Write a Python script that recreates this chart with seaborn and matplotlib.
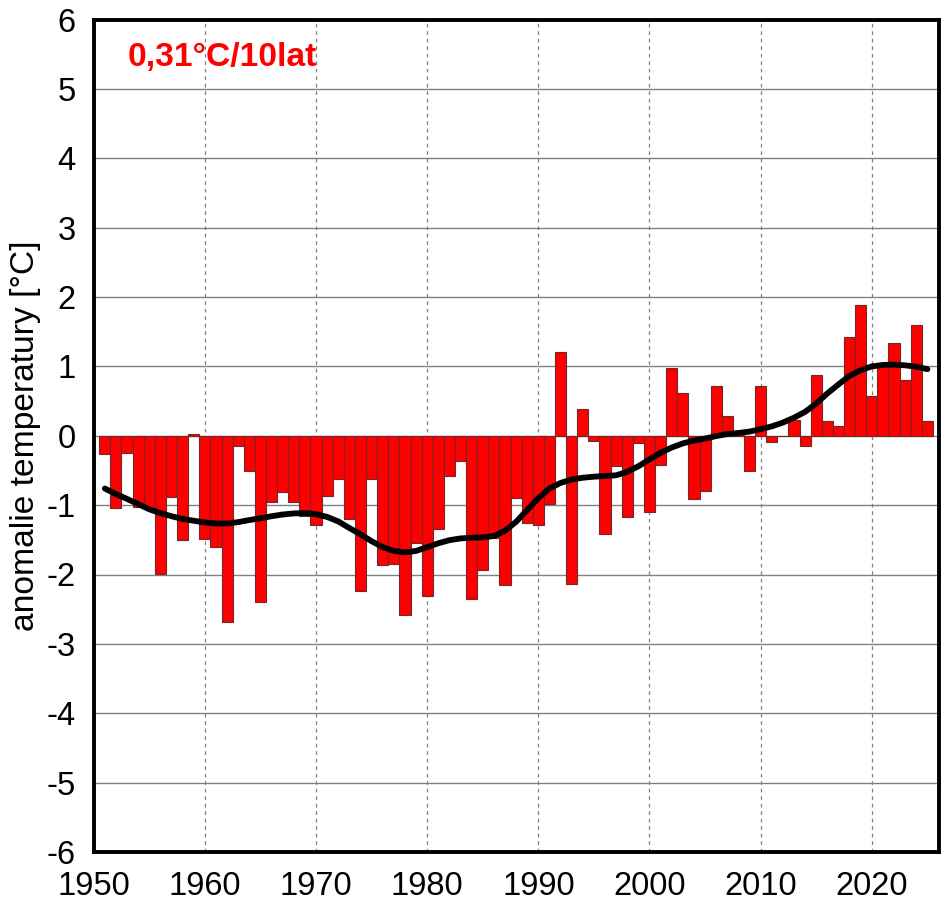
import matplotlib

matplotlib.use("Agg")
import matplotlib.pyplot as plt
import seaborn as sns

years = list(range(1951, 2026))
anomaly = [
    -0.26, -1.04, -0.25, -1.03, -1.06, -1.99, -0.88, -1.50, 0.03, -1.49,
    -1.60, -2.69, -0.15, -0.51, -2.40, -0.95, -0.81, -0.95, -1.16, -1.29,
    -0.87, -0.63, -1.20, -2.24, -0.63, -1.87, -1.85, -2.59, -1.55, -2.31,
    -1.35, -0.58, -0.36, -2.36, -1.94, -1.47, -2.15, -0.90, -1.26, -1.28,
    -0.98, 1.21, -2.14, 0.385, -0.07, -1.42, -0.43, -1.17, -0.11, -1.10,
    -0.42, 0.97, 0.615, -0.91, -0.79, 0.71, 0.28, 0.02, -0.51, 0.71,
    -0.09, -0.01, 0.23, -0.15, 0.87, 0.21, 0.14, 1.43, 1.88, 0.57,
    1.00, 1.33, 0.81, 1.60, 0.21,
]
smooth = [
    -0.76, -0.84, -0.91, -0.985, -1.06, -1.115, -1.16, -1.20, -1.225, -1.25,
    -1.265, -1.265, -1.245, -1.215, -1.19, -1.16, -1.135, -1.12, -1.115, -1.13,
    -1.17, -1.235, -1.33, -1.42, -1.52, -1.605, -1.66, -1.68, -1.66, -1.605,
    -1.55, -1.505, -1.48, -1.47, -1.465, -1.445, -1.37, -1.24, -1.07, -0.90,
    -0.76, -0.68, -0.63, -0.605, -0.59, -0.58, -0.57, -0.52, -0.44, -0.34,
    -0.245, -0.17, -0.11, -0.07, -0.04, -0.005, 0.025, 0.04, 0.06, 0.095,
    0.135, 0.19, 0.26, 0.345, 0.465, 0.61, 0.74, 0.865, 0.945, 1.00,
    1.02, 1.025, 1.015, 0.995, 0.96,
]
x_ticks = [1950, 1960, 1970, 1980, 1990, 2000, 2010, 2020]
y_ticks = list(range(-6, 7))

sns.set_theme(style="white")
plt.rcParams["font.family"] = ["Liberation Sans", "DejaVu Sans"]
plt.rcParams["axes.unicode_minus"] = False

fig = plt.figure(figsize=(9.45, 9.08), dpi=100)
ax = fig.add_axes([93.7 / 945, 1 - 852 / 908, (938.5 - 93.7) / 945, (852 - 19.5) / 908])

sns.barplot(
    x=years,
    y=anomaly,
    native_scale=True,
    width=1,
    color="#ff0000",
    saturation=1,
    edgecolor="#702828",
    linewidth=0.8,
    ax=ax,
    zorder=2,
)
sns.lineplot(
    x=years,
    y=smooth,
    color="black",
    linewidth=4.2,
    solid_capstyle="round",
    ax=ax,
    zorder=3,
)

ax.set_xlim(1950, 2026)
ax.set_ylim(-6, 6)
ax.set_xticks(x_ticks)
ax.set_yticks(y_ticks)
ax.set_axisbelow(True)
ax.grid(axis="y", color="#808080", linewidth=1.0, linestyle="-", zorder=0)
ax.grid(axis="x", color="#808080", linewidth=0.9, linestyle=(0, (3, 3)), zorder=0)
ax.tick_params(axis="both", length=0, labelsize=23.5, labelcolor="black")
ax.tick_params(axis="x", pad=14)
ax.tick_params(axis="y", pad=13)
ax.set_ylabel("anomalie temperatury [°C]", fontsize=24.2, color="black", labelpad=4)

for side in ax.spines.values():
    side.set_visible(True)
    side.set_color("black")
    side.set_linewidth(2.8)

ax.text(
    0.0405, 0.954, "0,31°C/10lat",
    transform=ax.transAxes, color="#ff0000", fontsize=24.2, fontweight="bold",
    va="center", ha="left",
)

fig.savefig("out.png", dpi=100)
